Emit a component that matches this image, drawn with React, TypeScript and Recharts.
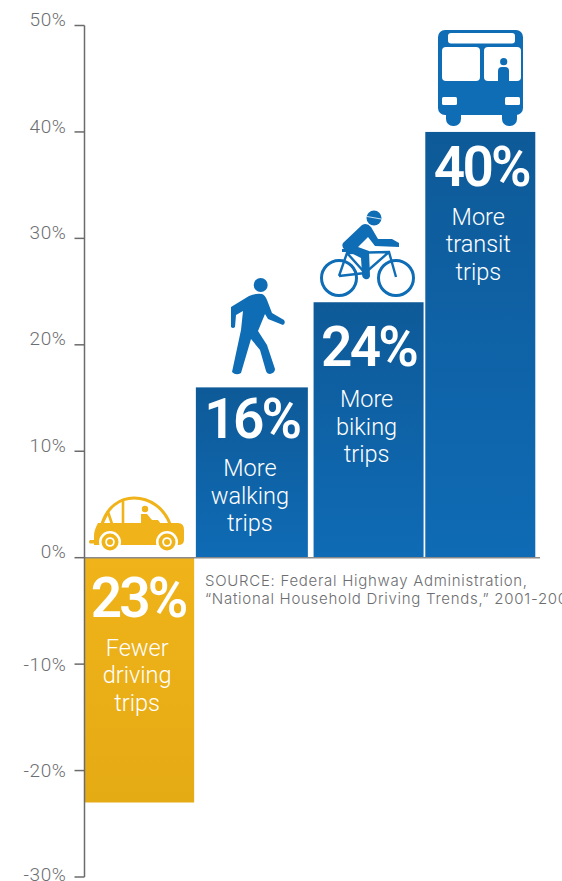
import React from "react";
import { BarChart, Bar, XAxis, YAxis, ReferenceLine, LabelList } from "recharts";

const categories = ["driving", "walking", "biking", "transit"];
const changes = [-23, 16, 24, 40];
const captions = [
  ["Fewer", "driving", "trips"],
  ["More", "walking", "trips"],
  ["More", "biking", "trips"],
  ["More", "transit", "trips"],
];
const axisTicks = [-30, -20, -10, 0, 10, 20, 30, 40, 50];
const sourceLines = [
  "SOURCE: Federal Highway Administration,",
  "\u201CNational Household Driving Trends,\u201D 2001-2009",
];

const rows = categories.map((name, i) => ({ name, change: changes[i], caption: captions[i] }));

const BLUE = "#0f6db6";
const GOLD = "#f0b31a";
const GREY = "#6d6e71";
const FONT = "Roboto, 'Open Sans', sans-serif";

// Small per-bar adjustments of the band layout, and where each bar's text sits
// relative to the bar's top edge and centre.
const barTweaks: Record<string, { dx: number; dw: number }> = {
  driving: { dx: 0, dw: 0 },
  walking: { dx: -2, dw: 2 },
  biking: { dx: 2, dw: 0 },
  transit: { dx: 0, dw: 0 },
};
const textOffsets: Record<string, { big: number; cap: number; bigX: number; capX: number }> = {
  driving: { big: 59, cap: 98, bigX: -1, capX: -2 },
  walking: { big: 51, cap: 89, bigX: -1, capX: -3 },
  biking: { big: 64, cap: 105, bigX: 2, capX: 0 },
  transit: { big: 54, cap: 93, bigX: 1, capX: -2 },
};

function CarIcon() {
  return (
    <g fill={GOLD}>
      <path d="M102 524 C107 507 120 498 134 498 C150 498 164 508 170 524" fill="none" stroke={GOLD} strokeWidth={3} />
      <path d="M123 499 V524 M108 512 L102 524 M108 512 L112 524" fill="none" stroke={GOLD} strokeWidth={2.6} />
      <circle cx={145} cy={509} r={3.2} />
      <path d="M141 514 H147 L152 520 H158 L161 524 H141 Z" />
      <path d="M98 523 H178 Q184 523 184 530 V540 Q184 545 178 545 H94 V536 Q94 530 98 523 Z" />
      <rect x={89} y={540} width={10} height={3.5} rx={1.5} />
      {[110, 167].map((cx) => (
        <g key={cx}>
          <circle cx={cx} cy={542} r={11} fill="#fff" />
          <circle cx={cx} cy={542} r={8.5} />
          <circle cx={cx} cy={542} r={4.8} fill="#fff" />
          <circle cx={cx} cy={542} r={3} />
        </g>
      ))}
    </g>
  );
}

function WalkerIcon() {
  return (
    <g fill={BLUE}>
      <circle cx={260.7} cy={285} r={7} />
      <path d="M231 307 L249 296 Q256 293 262 294 Q265 295 267 300 L272 313 L284 320 Q286 323 283 325 L268 319 L265 314 L258 331 L267 345 L275 369 Q275 373 270 374 Q267 374 266 371 L260 350 L251 339 L241 373 Q236 376 232 372 L241 330 L243 311 L236 315 L235 327 Q233 329 231 327 Z" />
    </g>
  );
}

function BikeIcon() {
  return (
    <g>
      <g fill="none" stroke={BLUE}>
        <circle cx={339} cy={278} r={17.5} strokeWidth={3} />
        <circle cx={396} cy={278} r={17.5} strokeWidth={3} />
        <path d="M339 276 L347 253 L389 252 L396 277 M339 276 L365 273 L389 252 M347 253 L365 273" strokeWidth={2.4} />
      </g>
      <g fill={BLUE}>
        <circle cx={374} cy={218} r={7.5} />
        <path d="M343 243 L362 225 Q367 222 371 227 L378 239 L392 239 L399 243 L399 247 L375 246 L368 237 L358 247 L369 251 L370 276 Q369 280 365 279 Q362 278 362 274 L361 258 L345 250 Q341 247 343 243 Z" />
        <rect x={342} y={249} width={10} height={3} />
      </g>
      <path d="M367 216.500 L381 219" stroke="#fff" strokeWidth={0.8} />
    </g>
  );
}

function BusIcon() {
  return (
    <g>
      <rect x={446} y={105} width={15} height={21} rx={7} fill={BLUE} />
      <rect x={502} y={105} width={15} height={21} rx={7} fill={BLUE} />
      <rect x={438} y={30} width={85} height={85} rx={7} fill={BLUE} />
      <g fill="#fff">
        <rect x={448} y={33} width={67} height={10.500} rx={3} />
        <rect x={442} y={47} width={38} height={34} rx={4} />
        <rect x={484} y={47} width={37} height={34} rx={4} />
        <rect x={442} y={97} width={15} height={8} rx={1.500} />
        <rect x={505} y={97} width={15} height={8} rx={1.500} />
      </g>
      <circle cx={503.700} cy={61.700} r={3.600} fill={BLUE} />
      <path d="M498 81 V71 Q498 67 502 67 H505 Q509 67 509 71 V81 Z" fill={BLUE} />
    </g>
  );
}

const icons: Record<string, () => React.ReactElement> = {
  driving: CarIcon,
  walking: WalkerIcon,
  biking: BikeIcon,
  transit: BusIcon,
};

function BarShape(props: any) {
  const { x, y, width, height, payload } = props;
  const top = Math.min(y, y + height);
  const fill = payload.change < 0 ? "url(#goldFade)" : "url(#blueFade)";
  const tweak = barTweaks[payload.name];
  return (
    <rect x={x + tweak.dx} y={top} width={width + tweak.dw} height={Math.abs(height)} fill={fill} />
  );
}

function BarText(props: any) {
  const { x, y, width, height, index } = props;
  const row = rows[index];
  const Icon = icons[row.name];
  const off = textOffsets[row.name];
  const cx = x + width / 2;
  const top = Math.min(y, y + height);
  return (
    <g fontFamily={FONT} textAnchor="middle" fill="#fff">
      <Icon />
      <text x={cx + off.bigX} y={top + off.big} fontSize={55} fontWeight={600} letterSpacing={-2.8}>
        {`${Math.abs(row.change)}%`}
      </text>
      {row.caption.map((line: string, i: number) => (
        <text key={line} x={cx + off.capX} y={top + off.cap + i * 27.5} fontSize={23.500} fontWeight={300}>
          {line}
        </text>
      ))}
    </g>
  );
}

function AxisTick(props: any) {
  const { x, y, payload } = props;
  const lift = payload.value >= 0 ? -6 : payload.value === -30 ? -3 : 0;
  return (
    <text
      x={x}
      y={y + lift}
      dy="0.35em"
      textAnchor="end"
      fontFamily={FONT}
      fontWeight={300}
      fontSize={19}
      letterSpacing={0.6}
      fill={GREY}
    >
      {`${payload.value}%`}
    </text>
  );
}

export default function App() {
  return (
    <div style={{ position: "absolute", left: 0, top: 0, width: 562, height: 881, overflow: "hidden" }}>
      <BarChart
        width={562}
        height={881}
        data={rows}
        margin={{ top: 25.5, right: 22, bottom: 4, left: 0 }}
        barSize={110}
      >
        <defs>
          <linearGradient id="blueFade" x1="0" y1="0" x2="0" y2="1">
            <stop offset="0%" stopColor="#0e5a98" />
            <stop offset="100%" stopColor="#0f6bb5" />
          </linearGradient>
          <linearGradient id="goldFade" x1="0" y1="0" x2="0" y2="1">
            <stop offset="0%" stopColor="#f0b31a" />
            <stop offset="100%" stopColor="#e5ab14" />
          </linearGradient>
        </defs>
        <XAxis dataKey="name" hide padding={{ left: -2.35, right: 3 }} />
        <YAxis
          width={84.5}
          domain={[-30, 50]}
          ticks={axisTicks}
          interval={0}
          tick={<AxisTick />}
          tickSize={10}
          tickMargin={8}
          tickLine={{ stroke: "#6b6b6b", strokeWidth: 1.5 }}
          axisLine={{ stroke: "#6b6b6b", strokeWidth: 1.5 }}
        />
        <ReferenceLine y={0} stroke="#8a8a8a" strokeWidth={1.5} />
        <Bar dataKey="change" isAnimationActive={false} shape={<BarShape />}>
          <LabelList dataKey="change" content={<BarText />} />
        </Bar>
        <text fontFamily="Inter, Roboto, sans-serif" fontSize={15} fontWeight={300} letterSpacing={0.72} fill={GREY}>
          <tspan x={205} y={586}>{sourceLines[0]}</tspan>
          <tspan x={205} y={604}>{sourceLines[1]}</tspan>
        </text>
      </BarChart>
    </div>
  );
}
